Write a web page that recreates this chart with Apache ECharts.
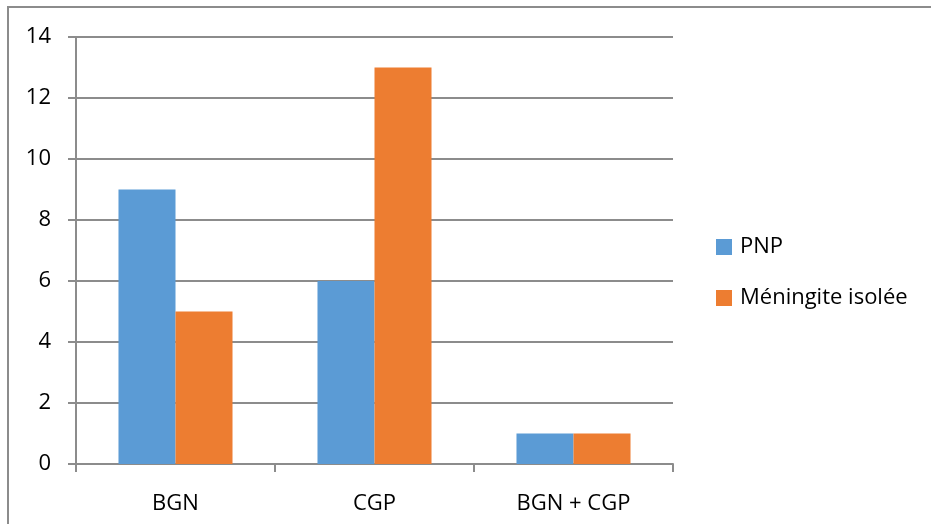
<!DOCTYPE html>
<html><head><meta charset="utf-8">
<script src="https://cdn.jsdelivr.net/npm/echarts@6/dist/echarts.min.js"></script>
<style>html,body{margin:0;padding:0;background:#fff}#c{width:931px;height:524px}</style>
</head><body><div id="c"></div>
<script>
const categories = ['BGN', 'CGP', 'BGN + CGP'];
const pnp = [9, 6, 1];
const meningite = [5, 13, 1];
const seriesNames = ['PNP', 'Méningite isolée'];
const yTicks = {min: 0, max: 14, interval: 2};

const chart = echarts.init(document.getElementById('c'), null, {renderer: 'canvas'});
const font = '"Open Sans", "Noto Sans", sans-serif';
chart.setOption({
  animation: false,
  graphic: [{type: 'rect', shape: {x: 8, y: 7, width: 1000, height: 1000},
    style: {fill: 'none', stroke: '#8c8c8c', lineWidth: 2}, silent: true}],
  grid: {left: 76, right: 258, top: 37, bottom: 60},
  legend: {
    orient: 'vertical', left: 716, top: 236, itemWidth: 16, itemHeight: 16,
    itemGap: 29, icon: 'rect', padding: 0,
    textStyle: {fontFamily: font, fontSize: 22, color: '#000', padding: [0, 0, 0, 3]},
    data: seriesNames
  },
  xAxis: {
    type: 'category', data: categories,
    axisLine: {lineStyle: {color: '#8c8c8c', width: 2}},
    axisTick: {show: true, length: 8, lineStyle: {color: '#8c8c8c', width: 2}},
    axisLabel: {fontFamily: font, fontSize: 22, color: '#000', margin: 29}
  },
  yAxis: {
    type: 'value', min: yTicks.min, max: yTicks.max, interval: yTicks.interval,
    axisLine: {show: true, lineStyle: {color: '#8c8c8c', width: 2}},
    axisTick: {show: true, length: 8, lineStyle: {color: '#8c8c8c', width: 2}},
    splitLine: {lineStyle: {color: '#8c8c8c', width: 2}},
    axisLabel: {fontFamily: font, fontSize: 22, color: '#000', margin: 25}
  },
  series: [
    {name: seriesNames[0], type: 'bar', data: pnp, barGap: '0%', barCategoryGap: '42.7%',
     itemStyle: {color: '#5B9BD5'}},
    {name: seriesNames[1], type: 'bar', data: meningite, barGap: '0%', barCategoryGap: '42.7%',
     itemStyle: {color: '#ED7D31'}}
  ]
});
</script></body></html>
